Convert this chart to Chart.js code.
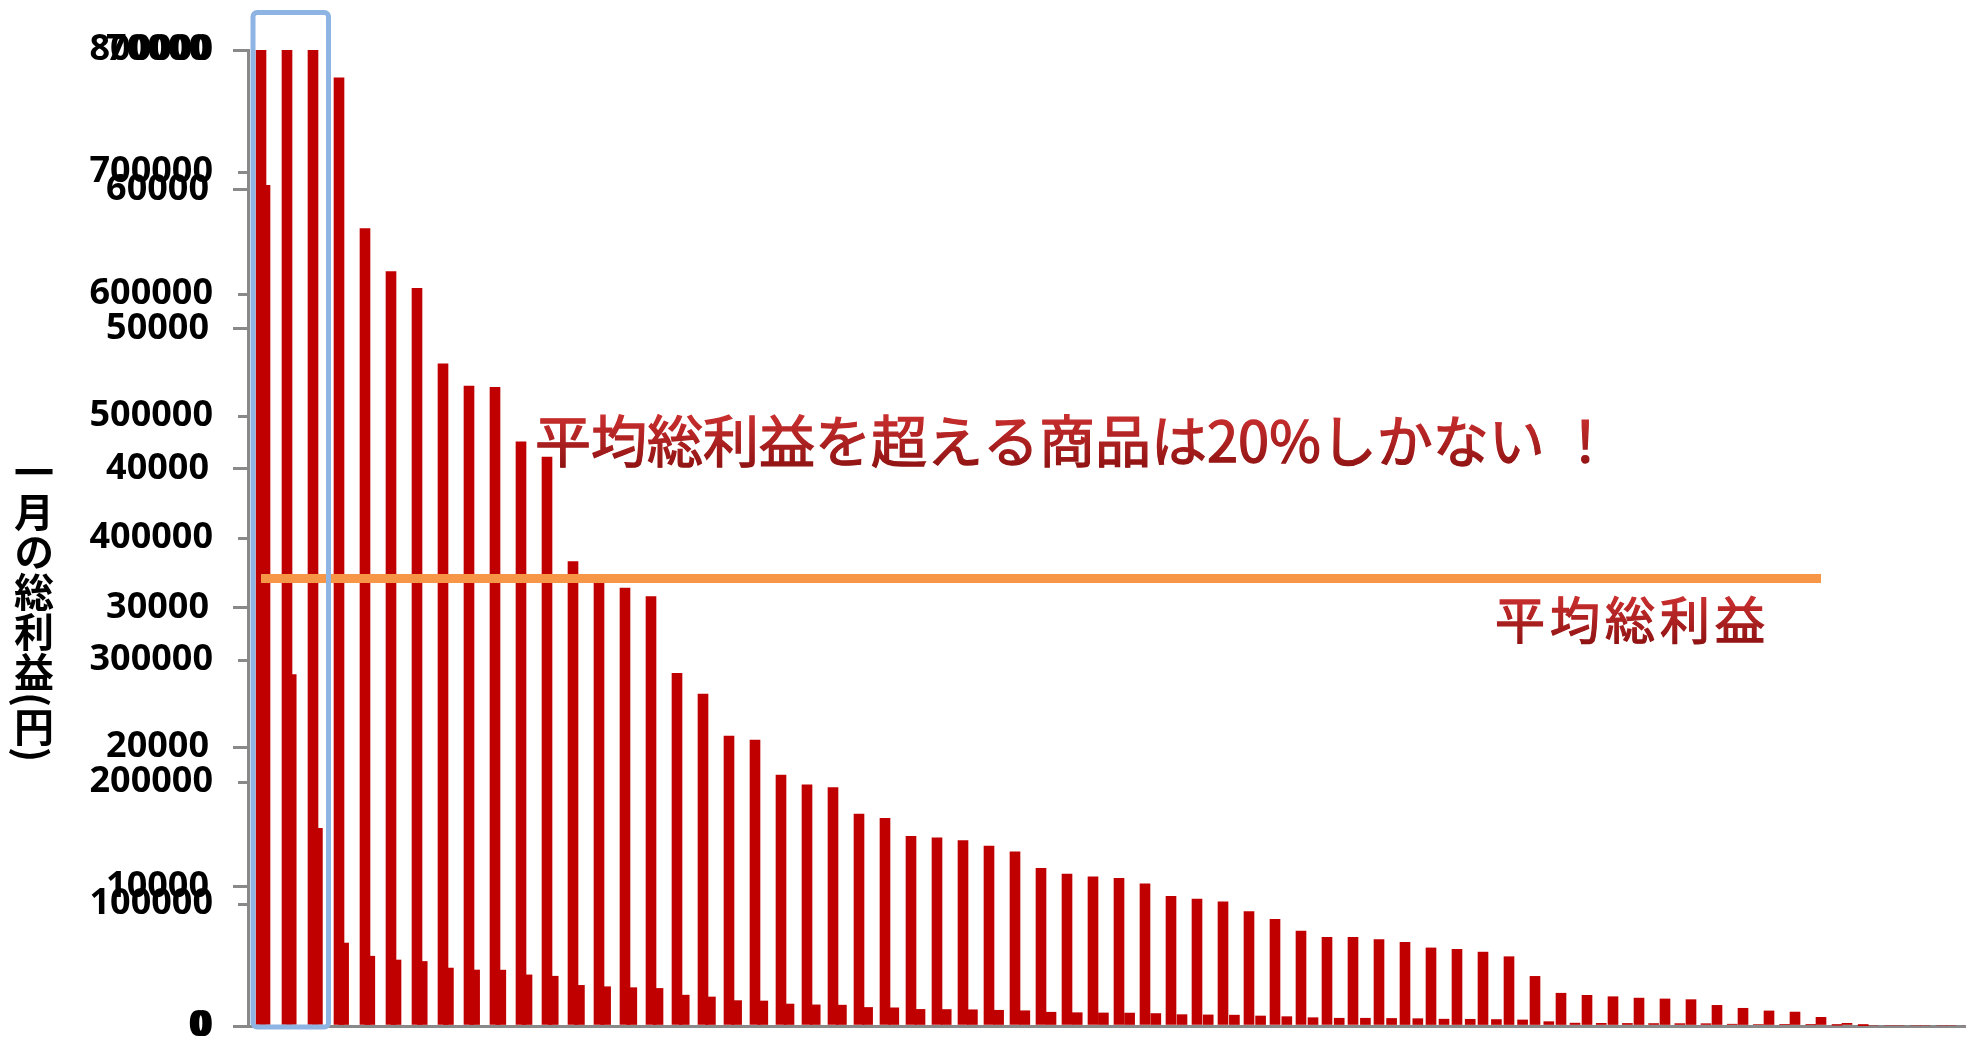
<!DOCTYPE html>
<html lang="ja">
<head>
<meta charset="utf-8">
<title>一月の総利益</title>
<script src="https://cdn.jsdelivr.net/npm/chart.js@4.4.1/dist/chart.umd.min.js"></script>
<style>
  html, body { margin: 0; padding: 0; background: #fff; }
  #wrap { position: relative; width: 1969px; height: 1042px; }
  #chart { position: absolute; left: 0; top: 0; }
  #ytitle {
    position: absolute; left: 14px; top: 452px;
    writing-mode: vertical-rl;
    font: bold 40px "Noto Sans CJK JP", sans-serif;
    line-height: 40px; color: #000;
  }
</style>
</head>
<body>
<div id="wrap">
  <canvas id="chart" width="1969" height="1042"></canvas>
  <div id="ytitle">一月の総利益(円)</div>
</div>
<script>
// 商品ごとの一月の総利益（円）、多い順
const profits = [
    689000, 288000, 162000, 68000, 57200, 54100, 52900, 47500, 45900, 45800,
    41900, 40800, 33300, 32200, 31400, 30800, 25300, 23800, 20800, 20500,
    18000, 17300, 17100, 15200, 14900, 13600, 13500, 13300, 12900, 12500,
    11300, 10900, 10700, 10600, 10200, 9300, 9100, 8900, 8200, 7650,
    6800, 6360, 6360, 6200, 6000, 5600, 5500, 5300, 4970, 3560,
    2350, 2200, 2100, 2000, 1940, 1890, 1480, 1270, 1080, 1000,
    620, 190, 0, 0, 0, 0
];
const products = Array.from({ length: profits.length }, (_, i) => '商品' + (i + 1));

const averageProfit = 32100;   // 平均総利益
const averageEndIndex = 60;    // 線の終わる商品
const highlightCount = 3;      // 青枠で囲む上位商品

const yenTicks = [0, 100000, 200000, 300000, 400000, 500000, 600000, 700000, 800000];
const yenTicksFine = [0, 10000, 20000, 30000, 40000, 50000, 60000, 70000];

const tickFont = { family: 'Open Sans', size: 36, weight: 'bold' };
const axisGray = '#898989';

// 2本目の目盛を1本目と同じ場所に重ねる
const y2Overlay = {
    id: 'y2Overlay',
    afterLayout(chart) {
        const y = chart.scales.y, y2 = chart.scales.y2;
        y2.left = y.left;
        y2.right = y.right;
        y2.width = y.width;
    }
};

function drawRedText(ctx, text, x, y, size, spacing) {
    ctx.save();
    ctx.font = size + 'px "Noto Sans CJK JP"';
    ctx.letterSpacing = spacing + 'px';
    ctx.textBaseline = 'middle';
    ctx.textAlign = 'left';
    const g = ctx.createLinearGradient(0, y - size / 2, 0, y + size / 2);
    g.addColorStop(0, '#CC3030');
    g.addColorStop(1, '#8E1212');
    ctx.shadowColor = 'rgba(255, 255, 255, 0.95)';
    ctx.shadowBlur = 6;
    ctx.fillStyle = g;
    ctx.strokeStyle = g;
    ctx.lineWidth = 1.3;
    ctx.fillText(text, x, y);
    ctx.fillText(text, x, y);
    ctx.shadowBlur = 0;
    ctx.strokeText(text, x, y);
    ctx.restore();
}

const notes = {
    id: 'notes',
    afterDatasetsDraw(chart) {
        const { ctx, chartArea, scales: { x } } = chart;
        const half = (x.getPixelForValue(1) - x.getPixelForValue(0)) / 2;
        const left = x.getPixelForValue(0) - half + 5;
        const right = x.getPixelForValue(highlightCount - 1) + half + 2.5;
        ctx.save();
        ctx.strokeStyle = '#8DB4E2';
        ctx.lineWidth = 5;
        ctx.beginPath();
        ctx.roundRect(left, 12.5, right - left, chartArea.bottom + 1 - 12.5, 4);
        ctx.stroke();
        ctx.restore();
    },
    afterDraw(chart) {
        const ctx = chart.ctx;
        drawRedText(ctx, '平均総利益を超える商品は20%しかない ！', 535, 441, 56, 0);
        drawRedText(ctx, '平均総利益', 1495, 620, 50, 5);
    }
};

new Chart(document.getElementById('chart'), {
    type: 'bar',
    data: {
        labels: products,
        datasets: [
            {
                type: 'line',
                label: '平均総利益',
                data: [
                    { x: products[0], y: averageProfit },
                    { x: products[averageEndIndex], y: averageProfit }
                ],
                xAxisID: 'x',
                yAxisID: 'y2',
                borderColor: '#F79646',
                borderWidth: 9,
                borderCapStyle: 'butt',
                pointRadius: 0,
                order: 0
            },
            {
                label: '一月の総利益',
                data: profits,
                xAxisID: 'x',
                yAxisID: 'y2',
                backgroundColor: '#C00000',
                barThickness: 10,
                grouped: false,
                clip: 0,
                order: 1
            },
            {
                label: '一月の総利益（全体）',
                data: profits.map((v, i) => ({ x: i + 1, y: v })),
                xAxisID: 'x2',
                yAxisID: 'y',
                backgroundColor: '#C00000',
                barThickness: 10,
                grouped: false,
                clip: 0,
                order: 2
            }
        ]
    },
    options: {
        responsive: false,
        animation: false,
        layout: { padding: { top: 50, right: 5, bottom: 0, left: 0 } },
        plugins: {
            legend: { display: false },
            tooltip: { enabled: false }
        },
        scales: {
            x: {
                type: 'category',
                position: 'bottom',
                offset: true,
                ticks: { display: false },
                grid: { display: true, drawOnChartArea: false, drawTicks: false, lineWidth: 3, color: axisGray },
                border: { display: true, color: axisGray, width: 3 },
                afterFit: s => { s.height = 16; }
            },
            x2: {
                type: 'linear',
                position: 'bottom',
                offset: false,
                min: 0.351,
                max: 65.847,
                ticks: { display: false },
                grid: { display: false, drawTicks: false },
                border: { display: false },
                afterFit: s => { s.height = 0; }
            },
            y: {
                type: 'linear',
                position: 'left',
                min: 0,
                max: 800000,
                afterBuildTicks: s => { s.ticks = yenTicks.map(v => ({ value: v })); },
                ticks: { autoSkip: false, padding: 25, color: '#000', font: tickFont, callback: v => String(v) },
                grid: { drawOnChartArea: false, drawTicks: true, tickLength: 10, lineWidth: 3, color: axisGray },
                border: { display: true, color: axisGray, width: 3 },
                afterFit: s => { s.width = 248; s.paddingTop = 0; s.paddingBottom = 0; }
            },
            y2: {
                type: 'linear',
                position: 'left',
                min: 0,
                max: 70000,
                afterBuildTicks: s => { s.ticks = yenTicksFine.map(v => ({ value: v })); },
                ticks: { autoSkip: false, padding: 24, color: '#000', font: tickFont, callback: v => String(v) },
                grid: { drawOnChartArea: false, drawTicks: true, tickLength: 15, lineWidth: 3, color: axisGray },
                border: { display: false },
                afterFit: s => { s.width = 0; s.paddingTop = 0; s.paddingBottom = 0; }
            }
        }
    },
    plugins: [y2Overlay, notes]
});
</script>
</body>
</html>
